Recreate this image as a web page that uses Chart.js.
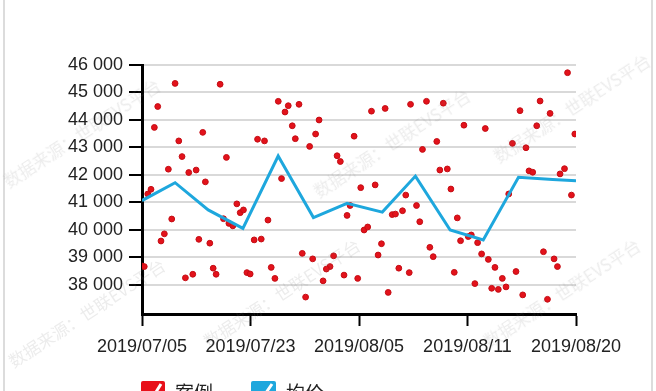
<!DOCTYPE html>
<html>
<head>
<meta charset="utf-8">
<script src="https://cdn.jsdelivr.net/npm/chart.js@4.4.1/dist/chart.umd.min.js"></script>
<style>
  html, body { margin: 0; padding: 0; background: #fff; }
  #wrap { position: relative; width: 656px; height: 391px; overflow: hidden; background: #fff; }
  #frameL { position: absolute; left: 3px; top: 0; width: 2px; height: 391px; background: #dcdcdc; }
  #frameR { position: absolute; left: 651px; top: 0; width: 2px; height: 391px; background: #dcdcdc; }
  canvas { position: absolute; left: 0; top: 0; }
  .wm { position: absolute; font: 17px "Noto Sans CJK SC", sans-serif; color: rgba(120,120,120,0.14);
        transform: rotate(-33deg); transform-origin: center; white-space: nowrap; pointer-events: none; }
  .leg { position: absolute; top: 381px; height: 22px; display: flex; align-items: flex-start; }
  .leg span { font: 19px "Noto Sans CJK SC", sans-serif; color: #222; margin-left: 10px; line-height: 22px; }
</style>
</head>
<body>
<div id="wrap">
  <div id="frameL"></div>
  <div id="frameR"></div>
  <canvas id="c" width="656" height="391"></canvas>
  <div class="wm" style="left:-10px; top:120px;">数据来源：世联EVS平台</div>
  <div class="wm" style="left:300px; top:130px;">数据来源：世联EVS平台</div>
  <div class="wm" style="left:480px; top:95px;">数据来源：世联EVS平台</div>
  <div class="wm" style="left:-5px; top:300px;">数据来源：世联EVS平台</div>
  <div class="wm" style="left:190px; top:280px;">数据来源：世联EVS平台</div>
  <div class="wm" style="left:470px; top:280px;">数据来源：世联EVS平台</div>
  <div class="leg" style="left:141px;">
    <svg width="24" height="24" viewBox="0 0 24 24"><rect x="0" y="0" width="24" height="24" rx="2" fill="#e8101a"/><path d="M5 11 L10 19 L20 3" stroke="#fff" stroke-width="3" fill="none"/></svg>
    <span>案例</span>
  </div>
  <div class="leg" style="left:251px;">
    <svg width="25" height="24" viewBox="0 0 25 24"><rect x="0" y="0" width="25" height="24" rx="2" fill="#1ea7dd"/><path d="M5 11 L10 19 L21 3" stroke="#fff" stroke-width="3" fill="none"/></svg>
    <span>均价</span>
  </div>
</div>
<script>
// ---- data ----
const tickLabels = ['2019/07/05', '2019/07/23', '2019/08/05', '2019/08/11', '2019/08/20'];
const yTickValues = [38000, 39000, 40000, 41000, 42000, 43000, 44000, 45000, 46000];
const seriesNames = ['案例', '均价'];

// individual cases (x position along the date axis, price)
const caseX = [
  0.000, 0.021, 0.053, 0.083, 0.145, 0.114, 0.305, 0.243, 0.339, 0.369, 0.431, 0.499, 0.560, 0.584,
  0.720, 0.778, 0.274, 0.206, 0.175, 0.524, 0.625, 0.400, 0.468, 0.656, 0.683, 0.751, 0.801,
  0.837, 0.874, 0.905, 0.935, 1.034, 1.099, 1.161, 0.967, 0.997, 1.191, 1.225, 1.065, 1.129,
  1.256, 1.318, 1.348, 1.447, 1.385, 1.413, 1.286, 1.545, 1.600, 1.632, 1.477, 1.573, 1.508,
  1.798, 1.828, 1.955, 2.115, 2.241, 2.475, 2.016, 2.149, 2.431, 1.918, 1.890, 2.047, 2.080,
  2.306, 2.336, 2.401, 2.207, 2.176, 1.766, 1.733, 1.699, 1.669, 1.862, 1.988, 2.269, 2.367, 2.463,
  2.622, 2.777, 2.967, 3.164, 2.717, 2.585, 2.745, 2.814, 2.847, 2.530, 2.560, 2.906, 2.936,
  3.007, 3.035, 3.093, 2.653, 2.684, 3.130, 3.192, 3.253, 2.878, 3.068, 3.223, 3.284,
  3.922, 3.669, 3.484, 3.761, 3.638, 3.989, 3.414, 3.539, 3.567, 3.601, 3.853, 3.894, 3.380,
  3.958, 3.321, 3.355, 3.447, 3.509, 3.700, 3.798, 3.829, 3.737
];
const casePrice = [
  38690, 38670, 41310, 41480, 44490, 43730, 45330, 42210, 43240, 42670, 42090, 42180, 43550, 41750,
  45300, 42640, 40400, 39860, 39600, 39660, 39520, 38260, 38390, 38610, 38390, 40410, 40240,
  40150, 40950, 40630, 40730, 39640, 39670, 40360, 38450, 38400, 38640, 38240, 43300, 43240,
  44680, 44290, 44520, 44570, 43790, 43320, 41870, 43040, 43490, 44000, 39150, 38950, 37560,
  42700, 42490, 43410, 44320, 44420, 44570, 41540, 41640, 41270, 40890, 40530, 40000, 40110,
  40560, 40580, 40700, 39500, 39090, 39060, 38670, 38580, 38150, 38360, 38240, 37730, 38610, 38450,
  44680, 44610, 43810, 43690, 43220, 42930, 42180, 42220, 41490, 40890, 40300, 40440, 39610,
  39760, 39820, 39540, 39370, 39030, 39130, 38930, 38640, 38460, 38050, 37880, 37840,
  45720, 44690, 44340, 44240, 43790, 43490, 43150, 42990, 42150, 42100, 42040, 42230, 41310,
  41270, 38240, 37930, 38490, 37640, 39210, 38950, 38670, 37480
];

// average price line
const avgX = [0.000, 0.305, 0.610, 0.930, 1.255, 1.580, 1.890, 2.215, 2.520, 2.840, 3.145, 3.470, 3.785, 4.000];
const avgPrice = [41070, 41720, 40730, 40060, 42690, 40450, 40970, 40650, 41960, 40000, 39640, 41920, 41840, 41790];

// ---- chart ----
const casePoints = caseX.map((x, i) => ({ x: x, y: casePrice[i] }));
const avgPoints = avgX.map((x, i) => ({ x: x, y: avgPrice[i] }));

Chart.defaults.font.family = '"Liberation Sans", Arial, sans-serif';
Chart.defaults.font.size = 18;
Chart.defaults.color = '#222';

new Chart(document.getElementById('c'), {
  type: 'scatter',
  data: {
    datasets: [
      {
        label: seriesNames[1],
        data: avgPoints,
        showLine: true,
        borderColor: '#1ea7dd',
        borderWidth: 3,
        pointRadius: 0,
        fill: false,
        tension: 0,
        order: 0
      },
      {
        label: seriesNames[0],
        data: casePoints,
        backgroundColor: '#e3121b',
        borderColor: '#c40d14',
        borderWidth: 1,
        pointRadius: 2.9,
        order: 1
      }
    ]
  },
  options: {
    responsive: false,
    animation: false,
    layout: { padding: { left: 0, right: 80, top: 65, bottom: 0 } },
    plugins: { legend: { display: false }, tooltip: { enabled: false } },
    scales: {
      x: {
        type: 'linear',
        min: 0,
        max: 4,
        afterFit: (s) => { s.height = 77; },
        ticks: {
          stepSize: 1,
          padding: 10,
          maxRotation: 0,
          color: '#222',
          callback: (v) => tickLabels[v] !== undefined ? tickLabels[v] : ''
        },
        grid: {
          drawOnChartArea: false,
          drawTicks: true,
          tickLength: 12,
          tickColor: '#000',
          tickWidth: 2
        },
        border: { display: true, color: '#000', width: 3 }
      },
      y: {
        type: 'linear',
        min: 36945,
        max: 46000,
        afterFit: (s) => { s.width = 142; },
        afterBuildTicks: (s) => { s.ticks = yTickValues.map(v => ({ value: v })); },
        ticks: {
          padding: 6,
          color: '#222',
          callback: (v) => String(v).replace(/\B(?=(\d{3})+(?!\d))/g, ' ')
        },
        grid: {
          color: '#d9d9d9',
          lineWidth: 2,
          drawTicks: true,
          tickLength: 13,
          tickColor: '#000',
          tickWidth: 2
        },
        border: { display: true, color: '#000', width: 3 }
      }
    }
  }
});
</script>
</body>
</html>
